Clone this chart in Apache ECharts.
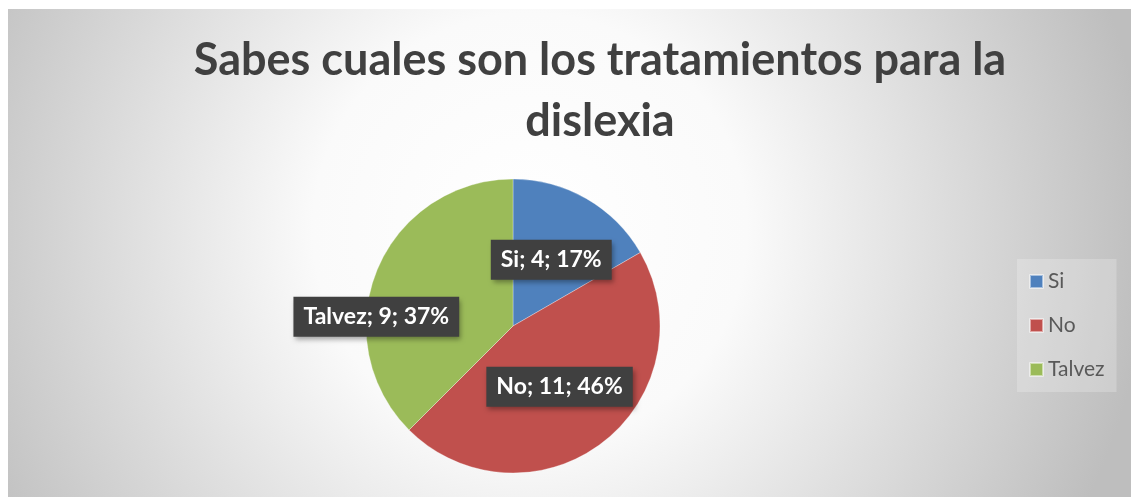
<!DOCTYPE html>
<html>
<head>
<meta charset="utf-8">
<script src="https://cdn.jsdelivr.net/npm/echarts@6/dist/echarts.min.js"></script>
<style>
  html, body { margin: 0; padding: 0; background: #fff; }
  #chart { width: 1131px; height: 497px; }
</style>
</head>
<body>
<div id="chart"></div>
<script>
// datos de la encuesta
const categorias = ['Si', 'No', 'Talvez'];
const valores = [4, 11, 9];
const colores = ['#4f81bd', '#c0504d', '#9bbb59'];
const titulo = 'Sabes cuales son los tratamientos para la\ndislexia';

const chart = echarts.init(document.getElementById('chart'));

const datos = categorias.map((nombre, i) => ({
    name: nombre,
    value: valores[i],
    itemStyle: { color: colores[i] }
}));

const option = {
    animation: false,
    graphic: [{
        type: 'rect',
        z: -10,
        silent: true,
        shape: { x: 8, y: 9, width: 1123, height: 488 },
        style: {
            fill: new echarts.graphic.RadialGradient(530, 230, 620, [
                { offset: 0, color: '#ffffff' },
                { offset: 0.35, color: '#fafafa' },
                { offset: 1, color: '#bebebe' }
            ], true)
        }
    }],
    title: {
        text: titulo,
        left: 595,
        top: 25,
        textAlign: 'center',
        textStyle: {
            fontFamily: 'Lato',
            fontWeight: 'bold',
            fontSize: 45,
            lineHeight: 61,
            color: '#404040'
        }
    },
    legend: {
        orient: 'vertical',
        left: 1017,
        top: 259,
        padding: [12, 12, 12, 12],
        backgroundColor: 'rgba(255,255,255,0.22)',
        itemWidth: 13,
        itemHeight: 13,
        itemGap: 23,
        icon: 'rect',
        data: categorias,
        textStyle: { fontFamily: 'Lato', fontSize: 21, color: '#595959' }
    },
    series: [{
        type: 'pie',
        center: [513, 326],
        radius: 147,
        startAngle: 90,
        clockwise: true,
        percentPrecision: 0,
        data: datos,
        itemStyle: { borderColor: 'rgba(255,255,255,0.5)', borderWidth: 0.6 },
        label: {
            show: true,
            position: 'inside',
            formatter: '{b}; {c}; {d}%',
            fontFamily: 'Lato',
            fontWeight: 'bold',
            fontSize: 23,
            color: '#ffffff',
            backgroundColor: '#404040',
            padding: [9, 10, 8, 10],
            shadowColor: 'rgba(0,0,0,0.35)',
            shadowBlur: 5,
            shadowOffsetX: 2,
            shadowOffsetY: 3
        },
        labelLayout: function (params) {
            if (params.dataIndex === 2) return { dx: -66, dy: 20 };
            return {};
        },
        labelLine: { show: false },
        emphasis: { disabled: true }
    }]
};

chart.setOption(option);
window.addEventListener('resize', function () { chart.resize(); });
</script>
</body>
</html>
